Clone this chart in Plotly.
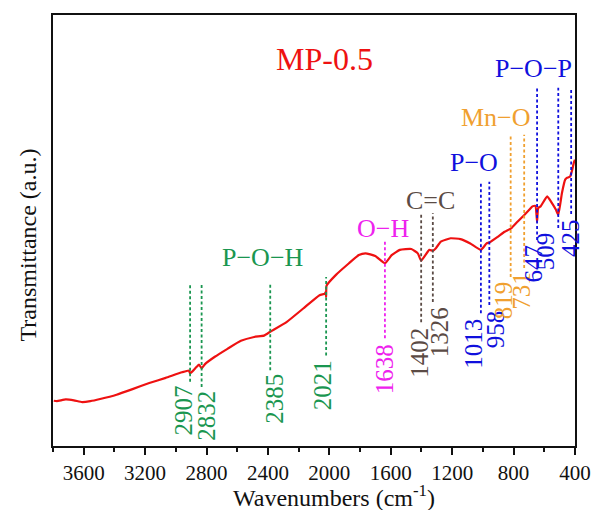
import plotly.graph_objects as go

# ---- spectrum data (wavenumber in cm^-1, transmittance in a.u.) ----
wavenumber = [3795, 3775, 3717, 3664, 3610, 3557, 3493, 3386, 3282, 3173, 3066, 2960,
              2914, 2907, 2874, 2849, 2832, 2810, 2746, 2661, 2576, 2490, 2426, 2385,
              2277, 2170, 2064, 2030, 2024, 2021, 2018, 1957, 1872, 1808, 1765, 1701,
              1638, 1594, 1541, 1466, 1424, 1402, 1349, 1326, 1306, 1274, 1210, 1146,
              1082, 1013, 976, 958, 901, 858, 816, 773, 730, 698, 677, 658, 647, 640,
              624, 581, 549, 524, 509, 485, 464, 453, 432, 421, 406, 400]
transmittance = [10.5, 10.4, 10.8, 10.6, 10.2, 10.4, 10.9, 11.9, 13.2, 14.6, 15.8, 17.1,
                 17.5, 16.8, 18.0, 18.9, 18.0, 19.0, 20.7, 22.6, 24.4, 25.3, 25.6, 26.5,
                 28.8, 31.9, 35.0, 35.3, 35.7, 34.6, 37.2, 39.7, 42.4, 44.3, 44.7, 44.1,
                 42.4, 44.3, 45.5, 45.7, 44.7, 43.0, 45.5, 45.3, 45.9, 47.4, 48.2, 48.0,
                 47.0, 45.5, 47.0, 47.2, 48.6, 49.7, 50.5, 52.1, 53.6, 54.8, 55.6, 55.7,
                 52.0, 55.2, 55.6, 57.9, 56.3, 54.8, 53.6, 58.7, 61.8, 62.2, 62.5, 63.7,
                 65.9, 66.4]

# ---- peak markers ----
peak_wn = [2907, 2832, 2385, 2021, 1638, 1402, 1326, 1013, 958, 819, 731, 647, 509, 425]
peak_labels = [str(p) for p in peak_wn]
peak_group = ["POH", "POH", "POH", "POH", "OH", "CC", "CC", "PO", "PO", "MnO", "MnO",
              "POP", "POP", "POP"]
line_top = [37.8, 37.8, 37.8, 39.2, 47.6, 54.0, 54.0, 61.3, 61.3, 72.2, 72.2, 83.1, 83.1, 83.1]
line_bottom = [14.9, 13.7, 17.6, 21.0, 25.0, 28.7, 33.4, 30.8, 32.7, 39.2, 41.3, 47.8, 50.6, 53.8]
label_top = [14.4, 13.2, 17.1, 20.4, 24.1, 28.0, 32.7, 29.9, 32.0, 38.7, 40.8, 47.3, 50.1, 53.1]
label_x = [2949, 2805, 2357, 2047, 1643, 1413, 1285, 1061, 920, 869, 748, 671, 594, 434]

# ---- bond labels ----
bond_text = ["P−O−H", "O−H", "C=C", "P−O", "Mn−O", "P−O−P"]
bond_group = ["POH", "OH", "CC", "PO", "MnO", "POP"]
bond_x = [2431, 1650, 1343, 1061, 914, 671]
bond_y = [43.7, 50.4, 57.0, 65.8, 76.3, 87.7]

group_color = {"POH": "#1a9650", "OH": "#ee22ee", "CC": "#5b4b45",
               "PO": "#1010dd", "MnO": "#f0a030", "POP": "#1010dd"}

sample_name = "MP-0.5"
x_ticks = [3600, 3200, 2800, 2400, 2000, 1600, 1200, 800, 400]
x_minor = [3800, 3400, 3000, 2600, 2200, 1800, 1400, 1000, 600]

FONT = "Liberation Serif"

fig = go.Figure()
fig.add_trace(go.Scatter(x=wavenumber, y=transmittance, mode="lines",
                         line=dict(color="#ee1111", width=2.2, shape="spline", smoothing=0.4),
                         hoverinfo="skip", showlegend=False))

shapes = []
annotations = []
for wn, lab, grp, lt, lb, tt, lx in zip(peak_wn, peak_labels, peak_group, line_top,
                                        line_bottom, label_top, label_x):
    c = group_color[grp]
    shapes.append(dict(type="line", xref="x", yref="y", x0=wn, x1=wn, y0=lb, y1=lt,
                       line=dict(color=c, width=1.8, dash="3px,2.5px"), layer="above"))
    annotations.append(dict(x=lx, y=tt, xref="x", yref="y", text=lab, showarrow=False,
                            textangle=-90, xanchor="center", yanchor="top",
                            font=dict(family=FONT, size=25, color=c)))

for t, g, bx, by in zip(bond_text, bond_group, bond_x, bond_y):
    annotations.append(dict(x=bx, y=by, xref="x", yref="y", text=t, showarrow=False,
                            xanchor="center", yanchor="middle",
                            font=dict(family=FONT, size=26, color=group_color[g])))

annotations.append(dict(x=2034, y=89.8, xref="x", yref="y", text=sample_name, showarrow=False,
                        xanchor="center", yanchor="middle",
                        font=dict(family=FONT, size=32, color="#ee1111")))

# axis titles
annotations.append(dict(x=0.538, y=0, xref="paper", yref="paper", yshift=-50,
                        text="Wavenumbers (cm<sup>-1</sup>)", showarrow=False,
                        xanchor="center", yanchor="middle",
                        font=dict(family=FONT, size=24, color="#111111")))
annotations.append(dict(x=0, y=0.465, xref="paper", yref="paper", xshift=-25,
                        text="Transmittance (a.u.)", showarrow=False, textangle=-90,
                        xanchor="center", yanchor="middle",
                        font=dict(family=FONT, size=24, color="#111111")))

fig.update_layout(
    width=603, height=510,
    margin=dict(l=53, r=20, t=15, b=64),
    paper_bgcolor="white", plot_bgcolor="white",
    font=dict(family=FONT),
    shapes=shapes, annotations=annotations,
    xaxis=dict(range=[3800, 400], tickmode="array", tickvals=x_ticks,
               ticktext=[str(v) for v in x_ticks],
               ticks="outside", ticklen=7, tickwidth=1.5, tickcolor="#111111",
               showline=True, linecolor="#111111", linewidth=1.5, mirror=True,
               showgrid=False, zeroline=False,
               tickfont=dict(family=FONT, size=21, color="#111111"),
               minor=dict(tickmode="array", tickvals=x_minor,
                          ticks="outside", ticklen=4, tickwidth=1.5, tickcolor="#111111",
                          showgrid=False)),
    yaxis=dict(range=[0, 100], showticklabels=False, ticks="",
               showline=True, linecolor="#111111", linewidth=1.5, mirror=True,
               showgrid=False, zeroline=False),
)

fig.write_html("out.html")
